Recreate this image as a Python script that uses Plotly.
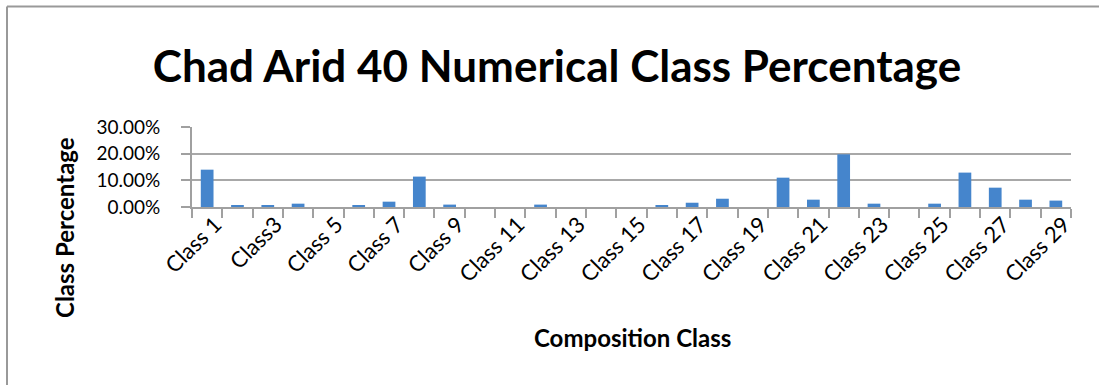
import plotly.graph_objects as go

classes = list(range(1, 30))
percentages = [14.0, 0.5, 0.5, 1.25, 0.0, 0.5, 2.0, 11.4, 0.9, 0.0,
               0.0, 0.9, 0.0, 0.0, 0.0, 0.5, 1.6, 3.1, 0.0, 11.0,
               2.75, 19.75, 1.25, 0.0, 1.25, 12.9, 7.25, 2.75, 2.4]
label_classes = list(range(1, 30, 2))
tick_labels = ["Class 1", "Class3", "Class 5", "Class 7", "Class 9", "Class 11",
               "Class 13", "Class 15", "Class 17", "Class 19", "Class 21",
               "Class 23", "Class 25", "Class 27", "Class 29"]
y_ticks = [0, 10, 20, 30]
y_tick_labels = ["0.00%", "10.00%", "20.00%", "30.00%"]

W, H = 1099, 385
ml, mr, mt, mb = 192, 28, 127, 178
pw, ph = W - ml - mr, H - mt - mb

FONT = "Lato"

fig = go.Figure()
fig.add_trace(go.Bar(
    x=classes, y=percentages,
    marker=dict(color="#4585CC", line=dict(width=0)),
    width=0.42,
))

def px_to_paper_x(px):
    return (px - ml) / pw

def px_to_paper_y(py):
    return (H - mb - py) / ph

fig.update_layout(
    width=W, height=H,
    margin=dict(l=ml, r=mr, t=mt, b=mb, pad=0),
    paper_bgcolor="white", plot_bgcolor="white",
    showlegend=False,
    title=dict(text="<b>Chad Arid 40 Numerical Class Percentage</b>",
               font=dict(family=FONT, size=44, color="black"),
               x=557 / W, xanchor="center",
               y=1 - 67 / H, yanchor="middle"),
    xaxis=dict(
        range=[0.5, 29.5], tickmode="array", tickvals=label_classes,
        ticktext=tick_labels, tickangle=-45, ticks="",
        ticklabelshift=8, ticklabelstandoff=-6,
        tickfont=dict(family=FONT, size=22, color="black"),
        showgrid=False, zeroline=False,
        showline=True, linecolor="#a0a0a0", linewidth=2,
        minor=dict(tickmode="linear", tick0=0.5, dtick=1, ticks="outside",
                   ticklen=9, tickcolor="#a0a0a0", tickwidth=2, showgrid=False),
    ),
    yaxis=dict(
        range=[0, 30], tickmode="array", tickvals=y_ticks, ticktext=y_tick_labels,
        ticks="outside", ticklen=9, tickcolor="#a0a0a0", tickwidth=2,
        ticklabelstandoff=17,
        tickfont=dict(family=FONT, size=19, color="black"),
        showgrid=True, gridcolor="#a8a8a8", gridwidth=2,
        zeroline=False, showline=True, linecolor="#a0a0a0", linewidth=2,
    ),
)

fig.add_annotation(
    text="<b>Class Percentage</b>", textangle=-90,
    xref="paper", yref="paper",
    x=px_to_paper_x(64), y=px_to_paper_y(228),
    xanchor="center", yanchor="middle", showarrow=False,
    font=dict(family=FONT, size=24, color="black"),
)
fig.add_annotation(
    text="<b>Composition Class</b>",
    xref="paper", yref="paper",
    x=px_to_paper_x(632), y=px_to_paper_y(337),
    xanchor="center", yanchor="middle", showarrow=False,
    font=dict(family=FONT, size=24, color="black"),
)

# chart frame (top and left border)
fig.add_shape(type="line", xref="paper", yref="paper",
              x0=px_to_paper_x(7), x1=px_to_paper_x(W + 5),
              y0=px_to_paper_y(6.5), y1=px_to_paper_y(6.5),
              line=dict(color="#999999", width=2))
fig.add_shape(type="line", xref="paper", yref="paper",
              x0=px_to_paper_x(7), x1=px_to_paper_x(7),
              y0=px_to_paper_y(6.5), y1=px_to_paper_y(H + 5),
              line=dict(color="#999999", width=2))

fig.write_html("out.html",
               config={"displayModeBar": False},
               post_script="document.body.style.margin='0';document.body.style.overflow='hidden';")
